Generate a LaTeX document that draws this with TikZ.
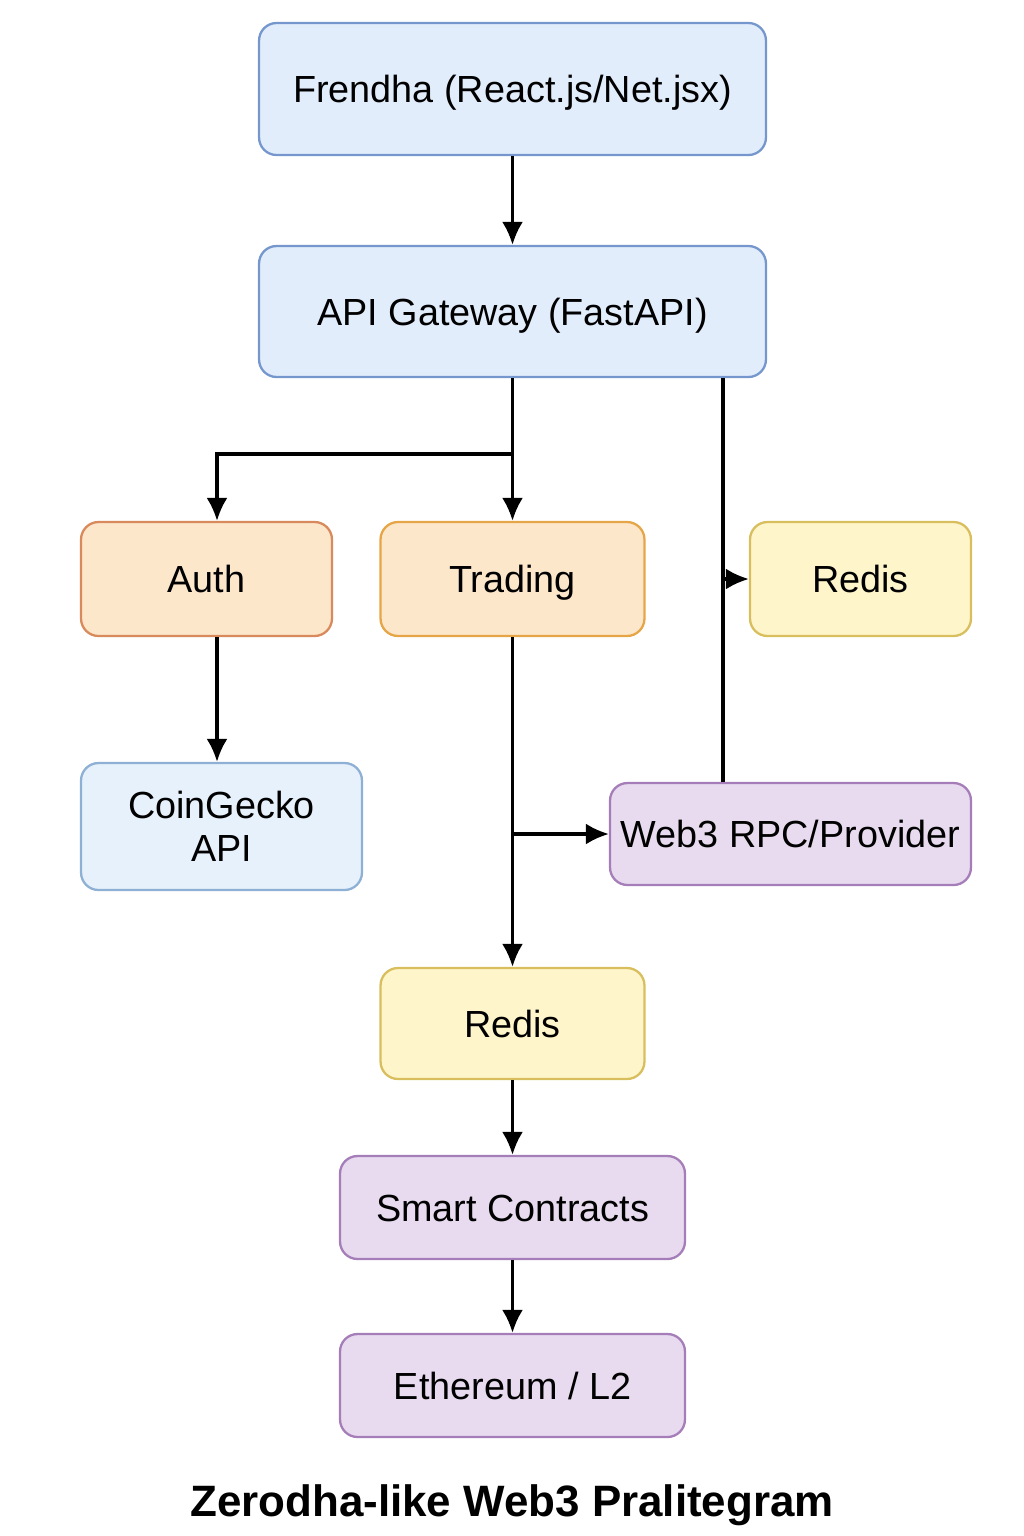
\documentclass[tikz,border=0pt]{standalone}
\usepackage{fontspec}
\setmainfont{Liberation Sans}
\usetikzlibrary{arrows.meta}
\definecolor{feFill}{HTML}{E2EDFC}
\definecolor{feLine}{HTML}{7597CE}
\definecolor{cgFill}{HTML}{E7F1FB}
\definecolor{cgLine}{HTML}{8DB0D4}
\definecolor{auFill}{HTML}{FDE7CB}
\definecolor{auLine}{HTML}{D98A5C}
\definecolor{trLine}{HTML}{E6A547}
\definecolor{rdFill}{HTML}{FFF5CB}
\definecolor{rdLine}{HTML}{D8BE5C}
\definecolor{chFill}{HTML}{E8DBEF}
\definecolor{chLine}{HTML}{A57DB9}
\begin{document}
\begin{tikzpicture}[x=0.02cm,y=-0.02cm,line width=1.9pt,>={Latex[length=4.6mm,width=4.2mm]}]
  \tikzstyle{box}=[draw,rectangle,rounded corners=3.5mm,line width=1.3pt,inner sep=0pt,align=center,font=\fontsize{21.5}{24.5}\selectfont]
  \tikzstyle{line1}=[box,text height=15.5pt,text depth=0pt]
  \tikzstyle{front}=[line1,fill=feFill,draw=feLine]
  \tikzstyle{feed}=[box,fill=cgFill,draw=cgLine]
  \tikzstyle{svc}=[line1,fill=auFill,draw=auLine]
  \tikzstyle{cache}=[line1,fill=rdFill,draw=rdLine]
  \tikzstyle{chain}=[line1,fill=chFill,draw=chLine]
  \def\dw{10.14cm}	% width of top blocks
  \def\dh{2.28cm}	% height of service row
  \def\cx{512.5}	% centre line of the stack
  \useasboundingbox (0,0) rectangle (1024,1536);
  \node[front,minimum width=\dw,minimum height=2.64cm] (fe) at (\cx,89) {Frendha (React.js/Net.jsx)};
  \node[front,minimum width=\dw,minimum height=2.62cm] (gw) at (\cx,311.5) {API Gateway (FastAPI)};
  \node[svc,minimum width=5.02cm,minimum height=\dh] (auth) at (206.5,579) {Auth};
  \node[svc,draw=trLine,minimum width=5.28cm,minimum height=\dh] (trade) at (\cx,579) {Trading};
  \node[cache,minimum width=4.42cm,minimum height=\dh] (rdtop) at (860.5,579) {Redis};
  \node[feed,minimum width=5.62cm,minimum height=2.54cm] (coin) at (221.5,826.5) {CoinGecko\\API};
  \node[chain,minimum width=7.22cm,minimum height=2.04cm] (web3) at (790.5,834) {Web3 RPC/Provider};
  \node[cache,minimum width=5.28cm,minimum height=2.22cm] (rdmid) at (\cx,1023.5) {Redis};
  \node[chain,minimum width=6.9cm,minimum height=2.06cm] (sc) at (\cx,1207.5) {Smart Contracts};
  \node[chain,minimum width=6.9cm,minimum height=2.06cm] (eth) at (\cx,1385.5) {Ethereum / L2};
  \node[font=\bfseries\fontsize{25}{30}\selectfont] (title) at (512,1505) {Zerodha-like Web3 Pralitegram};
  \path (gw.south) + (0,76) coordinate (split);
  \path (auth.north) + (10.5,0) coordinate (aa);
  \path (gw.south east) + (-44,0) coordinate (rr);
  \draw[->] (fe) -- (gw);
  \draw[->] (gw.south) -- (split) -- (trade.north);
  \draw[->] (split) -| (aa);
  \draw[->] (aa |- auth.south) -- (aa |- coin.north);
  \draw (rr) -- (rr |- web3.north);
  \draw[->] (rr |- rdtop.west) -- (rdtop.west);
  \draw[->] (trade) -- (rdmid);
  \draw[->] (trade.south |- web3.west) -- (web3.west);
  \draw[->] (rdmid) -- (sc);
  \draw[->] (sc) -- (eth);
\end{tikzpicture}
\end{document}
